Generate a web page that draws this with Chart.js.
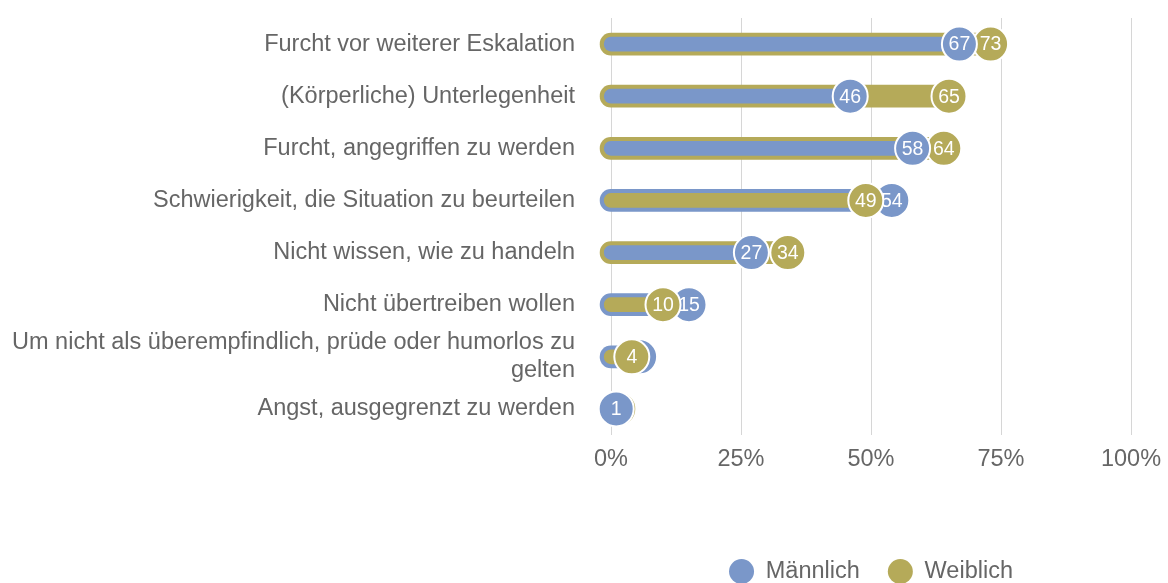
<!DOCTYPE html>
<html lang="de">
<head>
  <meta charset="UTF-8">
  <title>Gründe für Nichteingreifen</title>
  <script src="https://cdn.jsdelivr.net/npm/chart.js"></script>
  <style>
    html, body { margin: 0; padding: 0; background: #fff; }
    #wrap { width: 1168px; height: 583px; }
  </style>
</head>
<body>
  <div id="wrap"><canvas id="chart"></canvas></div>

  <script>
    // Data (percent)
    const categories = [
      "Furcht vor weiterer Eskalation",
      "(Körperliche) Unterlegenheit",
      "Furcht, angegriffen zu werden",
      "Schwierigkeit, die Situation zu beurteilen",
      "Nicht wissen, wie zu handeln",
      "Nicht übertreiben wollen",
      ["Um nicht als überempfindlich, prüde oder humorlos zu", "gelten"],
      "Angst, ausgegrenzt zu werden"
    ];
    const maennlich = [67, 46, 58, 54, 27, 15, 5.5, 1];
    const weiblich = [73, 65, 64, 49, 34, 10, 4, 1.5];
    const seriesNames = ["Männlich", "Weiblich"];
    const xTicks = [0, 25, 50, 75, 100];

    const BLUE = "#7a97c9";
    const OLIVE = "#b5aa59";
    const FONT = '"Liberation Sans", Arial, Helvetica, sans-serif';
    const TXT = 23.5;

    // the larger value of each row sits behind (thicker bar), the smaller in front
    const backVals = maennlich.map((m, i) => Math.max(m, weiblich[i]));
    const frontVals = maennlich.map((m, i) => Math.min(m, weiblich[i]));
    const backCols = maennlich.map((m, i) => m >= weiblich[i] ? BLUE : OLIVE);
    const frontCols = maennlich.map((m, i) => m >= weiblich[i] ? OLIVE : BLUE);

    // white value text inside the circles, drawn right after each point set
    const valueLabels = {
      id: "valueLabels",
      afterDatasetDraw(chart, args) {
        const ds = chart.data.datasets[args.index];
        if (!ds.showValues) return;
        const ctx = chart.ctx;
        ctx.save();
        ctx.font = "19.5px " + FONT;
        ctx.fillStyle = "#fff";
        ctx.textAlign = "center";
        ctx.textBaseline = "middle";
        args.meta.data.forEach((pt, i) => {
          ctx.fillText(String(Math.round(ds.data[i])), pt.x, pt.y + 1);
        });
        ctx.restore();
      }
    };

    const pointStyle = {
      type: "line",
      showLine: false,
      pointRadius: 17.5,
      pointHoverRadius: 17.5,
      pointBorderWidth: 2,
      pointHoverBorderWidth: 2,
      pointBorderColor: "#fff",
      clip: false,
      showValues: true
    };

    new Chart(document.getElementById("chart"), {
      type: "bar",
      data: {
        labels: categories,
        datasets: [
          {
            label: "back",
            data: backVals,
            backgroundColor: backCols,
            barThickness: 22,
            borderRadius: 11,
            borderSkipped: false,
            grouped: false,
            base: -2.1,
            clip: false,
            order: 4
          },
          {
            label: "front",
            data: frontVals,
            backgroundColor: frontCols,
            barThickness: 14,
            borderRadius: 7,
            borderSkipped: false,
            grouped: false,
            base: -1.3,
            clip: false,
            order: 3
          },
          Object.assign({ label: "backPts", data: backVals, pointBackgroundColor: backCols, order: 2 }, pointStyle),
          Object.assign({ label: "frontPts", data: frontVals, pointBackgroundColor: frontCols, order: 1 }, pointStyle)
        ]
      },
      options: {
        indexAxis: "y",
        responsive: true,
        maintainAspectRatio: false,
        animation: false,
        layout: { autoPadding: false, padding: { top: 18, left: 10, right: 0, bottom: -11 } },
        scales: {
          x: {
            min: 0,
            max: 100,
            afterBuildTicks: (axis) => { axis.ticks = xTicks.map(v => ({ value: v })); },
            ticks: {
              callback: (v) => v + "%",
              color: "#666",
              font: { family: FONT, size: TXT },
              padding: 10
            },
            grid: { color: "#d6d6d6", drawTicks: false },
            border: { display: false },
            afterFit: (axis) => {
              axis.height = 96;
              axis.paddingLeft = 0;
              axis.paddingRight = 37;
            }
          },
          y: {
            grid: { display: false, drawTicks: false },
            border: { display: false },
            ticks: {
              autoSkip: false,
              color: "#666",
              font: { family: FONT, size: TXT },
              padding: 36
            },
            afterFit: (axis) => {
              axis.width = 601;
              axis.paddingTop = 0;
              axis.paddingBottom = 0;
            }
          }
        },
        plugins: {
          legend: {
            position: "bottom",
            fullSize: false,
            labels: {
              color: "#666",
              font: { family: FONT, size: TXT },
              boxWidth: 25,
              boxHeight: 25,
              padding: 28,
              generateLabels: () => seriesNames.map((n, i) => ({
                text: n,
                fillStyle: i === 0 ? BLUE : OLIVE,
                strokeStyle: i === 0 ? BLUE : OLIVE,
                lineWidth: 0,
                borderRadius: 12.5,
                hidden: false,
                fontColor: "#666",
                datasetIndex: i
              }))
            },
            onClick: () => {}
          },
          tooltip: { enabled: false }
        }
      },
      plugins: [valueLabels]
    });
  </script>
</body>
</html>
